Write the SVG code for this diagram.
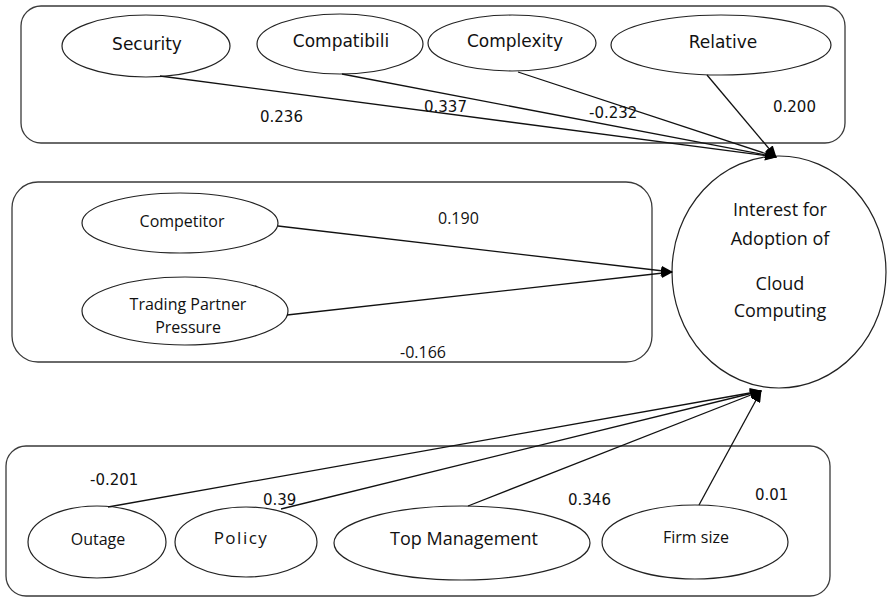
<svg xmlns="http://www.w3.org/2000/svg" width="888" height="598" viewBox="0 0 888 598">
<defs>
<marker id="arr" markerWidth="12" markerHeight="10" refX="11" refY="5" orient="auto" markerUnits="userSpaceOnUse">
<path d="M0,0 L12,5 L0,10 Z" fill="#000"/>
</marker>
<style>
.box{fill:none;stroke:#3a3a3a;stroke-width:1.3}
.el{fill:#fff;stroke:#222;stroke-width:1.2}
.ln{stroke:#111;stroke-width:1.3;fill:none}
.v{font-family:"DejaVu Sans",Verdana,sans-serif;font-size:15px;fill:#111}
.n{font-family:"DejaVu Sans",Verdana,sans-serif;font-size:17px;fill:#111}
.c{font-family:"Open Sans","Liberation Sans",sans-serif;fill:#111}
</style>
</defs>
<rect width="888" height="598" fill="#fff"/>
<rect class="box" x="21" y="6" width="824" height="137" rx="20"/>
<rect class="box" x="12" y="182" width="640" height="180" rx="26"/>
<rect class="box" x="6" y="446" width="824" height="150" rx="20"/>

<g id="security"><ellipse class="el" cx="146" cy="46" rx="84" ry="31"/><text class="n" x="147" y="50" text-anchor="middle">Security</text></g>
<g id="compatibility"><ellipse class="el" cx="340" cy="44" rx="83" ry="30"/><text class="n" x="341" y="47" text-anchor="middle">Compatibili</text></g>
<g id="complexity"><ellipse class="el" cx="512" cy="43" rx="84" ry="28"/><text class="n" x="515" y="47" text-anchor="middle">Complexity</text></g>
<g id="relative"><ellipse class="el" cx="721" cy="45" rx="110" ry="30"/><text class="n" x="723" y="48" text-anchor="middle">Relative</text></g>

<g id="competitor"><ellipse class="el" cx="180" cy="223" rx="98" ry="30"/><text class="c" font-size="16" x="182" y="227" text-anchor="middle">Competitor</text></g>
<g id="trading"><ellipse class="el" cx="185" cy="311" rx="103" ry="34"/><text class="c" font-size="16" x="188" y="310" text-anchor="middle">Trading Partner</text><text class="c" font-size="16" x="188" y="333" text-anchor="middle">Pressure</text></g>

<g id="interest"><ellipse class="el" cx="779" cy="272" rx="107" ry="116"/>
<text class="c" font-size="18" x="780" y="216" text-anchor="middle">Interest for</text>
<text class="c" font-size="18" x="780" y="245" text-anchor="middle">Adoption of</text>
<text class="c" font-size="18" x="780" y="290" text-anchor="middle">Cloud</text>
<text class="c" font-size="18" x="780" y="317" text-anchor="middle">Computing</text></g>

<g id="outage"><ellipse class="el" cx="97" cy="542" rx="69" ry="36"/><text class="c" font-size="16" x="98" y="545" text-anchor="middle">Outage</text></g>
<g id="policy"><ellipse class="el" cx="246" cy="542" rx="71" ry="35"/><text class="c" font-size="17" x="241" y="544" text-anchor="middle" letter-spacing="1.5">Policy</text></g>
<g id="topmanagement"><ellipse class="el" cx="462" cy="543" rx="128" ry="37"/><text class="c" font-size="18" x="464" y="545" text-anchor="middle">Top Management</text></g>
<g id="firmsize"><ellipse class="el" cx="695" cy="542" rx="93" ry="37"/><text class="c" font-size="16" x="696" y="543" text-anchor="middle">Firm size</text></g>

<g id="connectors">
<line class="ln" x1="160" y1="76" x2="776" y2="157" marker-end="url(#arr)"/>
<line class="ln" x1="342" y1="74" x2="776" y2="157" marker-end="url(#arr)"/>
<line class="ln" x1="518" y1="72" x2="776" y2="157" marker-end="url(#arr)"/>
<line class="ln" x1="707" y1="75" x2="776" y2="157" marker-end="url(#arr)"/>
<line class="ln" x1="278" y1="226" x2="672" y2="272" marker-end="url(#arr)"/>
<line class="ln" x1="287" y1="315" x2="672" y2="272" marker-end="url(#arr)"/>
<line class="ln" x1="108" y1="507" x2="761" y2="391" marker-end="url(#arr)"/>
<line class="ln" x1="281" y1="509" x2="761" y2="391" marker-end="url(#arr)"/>
<line class="ln" x1="468" y1="506" x2="761" y2="391" marker-end="url(#arr)"/>
<line class="ln" x1="699" y1="505" x2="761" y2="391" marker-end="url(#arr)"/>
</g>

<g id="labels">
<text class="v" x="260" y="122">0.236</text>
<text class="v" x="424" y="112">0.337</text>
<text class="v" x="589" y="118">-0.232</text>
<text class="v" x="773" y="112">0.200</text>
<text class="c" font-size="16" x="438" y="224">0.190</text>
<text class="c" font-size="16" x="400" y="358">-0.166</text>
<text class="v" x="90" y="485">-0.201</text>
<text class="v" x="263" y="505">0.39</text>
<text class="v" x="568" y="505">0.346</text>
<text class="v" x="755" y="500">0.01</text>
</g>
</svg>
